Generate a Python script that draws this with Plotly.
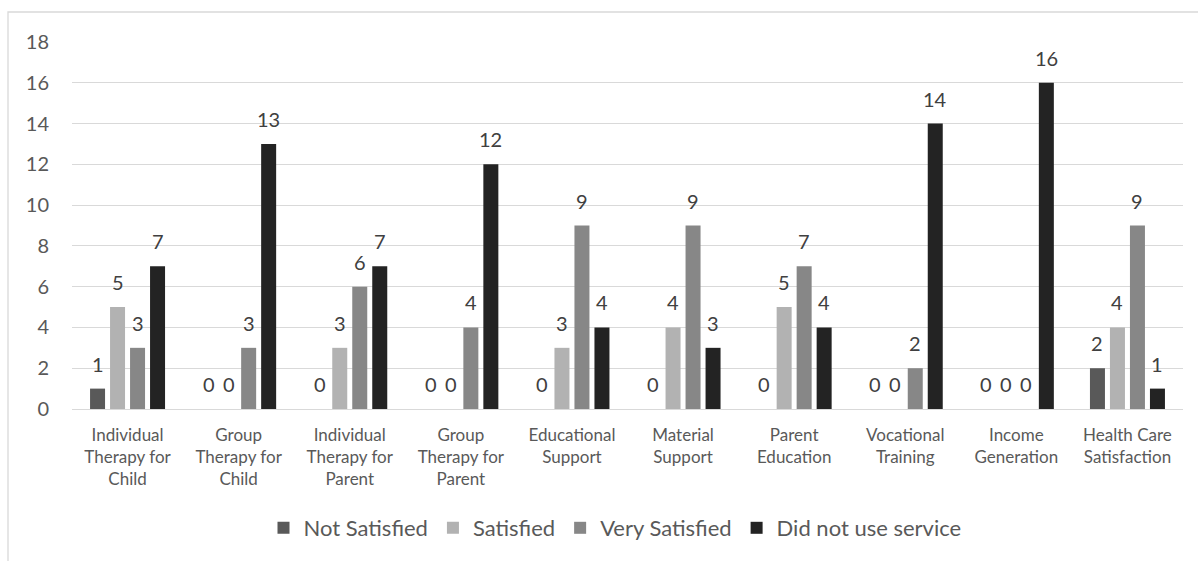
import plotly.graph_objects as go

categories = [
    "Individual<br>Therapy for<br>Child",
    "Group<br>Therapy for<br>Child",
    "Individual<br>Therapy for<br>Parent",
    "Group<br>Therapy for<br>Parent",
    "Educational<br>Support",
    "Material<br>Support",
    "Parent<br>Education",
    "Vocational<br>Training",
    "Income<br>Generation",
    "Health Care<br>Satisfaction",
]

series_names = ["Not Satisfied", "Satisfied", "Very Satisfied", "Did not use service"]
not_satisfied = [1, 0, 0, 0, 0, 0, 0, 0, 0, 2]
satisfied = [5, 0, 3, 0, 3, 4, 5, 0, 0, 4]
very_satisfied = [3, 3, 6, 4, 9, 9, 7, 2, 0, 9]
did_not_use = [7, 13, 7, 12, 4, 3, 4, 14, 16, 1]
series_values = [not_satisfied, satisfied, very_satisfied, did_not_use]
series_colors = ["#595959", "#b2b2b2", "#878787", "#232323"]

y_ticks = list(range(0, 19, 2))

FONT = "Lato"
W, H = 1198, 561
ML, MR, MT, MB = 72, 15, 42, 152
plot_w = W - ML - MR
plot_h = H - MT - MB

fig = go.Figure()
for name, vals, col in zip(series_names, series_values, series_colors):
    fig.add_trace(go.Bar(
        name=name, x=categories, y=vals,
        marker=dict(color=col, line=dict(width=0)),
    ))

# value labels above each bar (slot width = category width * (1 - bargap) / 4)
cat_px = plot_w / len(categories)
bargap = 0.28
slot_px = cat_px * (1 - bargap) / len(series_names)
for i, vals in enumerate(series_values):
    shift = (i - (len(series_names) - 1) / 2) * slot_px
    for cat, v in zip(categories, vals):
        fig.add_annotation(
            x=cat, y=v, xref="x", yref="y", text=str(v), showarrow=False,
            xshift=shift, yshift=25, yanchor="middle", xanchor="center",
            font=dict(family=FONT, size=20, color="#404040"),
        )

# outer chart frame
fig.add_shape(
    type="rect", xref="paper", yref="paper",
    x0=(8 - ML) / plot_w, x1=(W + 20 - ML) / plot_w,
    y0=-(MB + 20) / plot_h, y1=(H - MB - 12) / plot_h,
    line=dict(color="#d9d9d9", width=1.3), fillcolor="rgba(0,0,0,0)", layer="below",
)

fig.update_layout(
    width=W, height=H,
    margin=dict(l=ML, r=MR, t=MT, b=MB, autoexpand=False),
    paper_bgcolor="white", plot_bgcolor="white",
    barmode="group", bargap=bargap, bargroupgap=0.25,
    font=dict(family=FONT, color="#595959"),
    showlegend=True,
    legend=dict(
        orientation="h", x=(615 - ML) / plot_w, xanchor="center",
        y=-(528 - (H - MB)) / plot_h, yanchor="middle",
        font=dict(family=FONT, size=22, color="#595959"),
        itemwidth=30, traceorder="normal",
    ),
    xaxis=dict(
        showgrid=False, showline=False, zeroline=False, ticks="",
        tickfont=dict(family=FONT, size=17, color="#595959"),
        ticklabelstandoff=14, tickangle=0,
    ),
    yaxis=dict(
        range=[0, 18], tickvals=y_ticks, showgrid=True, gridcolor="#d9d9d9", gridwidth=1.3,
        zeroline=True, zerolinecolor="#d9d9d9", zerolinewidth=1.3, showline=False, ticks="",
        tickfont=dict(family=FONT, size=20, color="#595959"), ticklabelstandoff=22,
    ),
)

fig.write_html("out.html")
